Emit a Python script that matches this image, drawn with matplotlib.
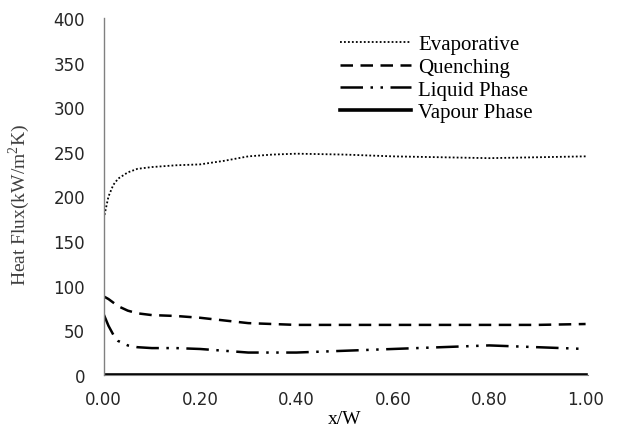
import matplotlib
matplotlib.use("Agg")
import matplotlib.pyplot as plt

plt.rcParams['font.family'] = ['Liberation Serif', 'DejaVu Serif']
plt.rcParams['mathtext.fontset'] = 'custom'
plt.rcParams['mathtext.rm'] = 'Liberation Serif'

# x/W positions
x = [0.0, 0.01, 0.02, 0.03, 0.05, 0.07, 0.10, 0.15, 0.20, 0.25, 0.30, 0.35, 0.40,
     0.50, 0.60, 0.70, 0.80, 0.90, 1.00]

evaporative = [175, 200, 213, 220, 227, 231, 233, 235, 236, 240, 245, 247, 248,
               247, 245, 244, 243, 244, 245]
quenching = [88, 85, 81, 77, 72, 69, 67, 66, 64, 61, 58, 57, 56,
             56, 56, 56, 56, 56, 57]
liquid = [68, 55, 45, 38, 33, 31, 30, 30, 29, 27, 25, 25, 25,
          27, 29, 31, 33, 31, 29]
vapour = [0] * len(x)

series = [
    ("Evaporative", evaporative, (0, (1, 1.2)), 1.3),
    ("Quenching", quenching, (0, (5, 3)), 1.8),
    ("Liquid Phase", liquid, (0, (9, 3, 1, 3, 1, 3)), 1.8),
    ("Vapour Phase", vapour, '-', 2.6),
]

fig = plt.figure(figsize=(6.17, 4.35), dpi=100)
ax = fig.add_axes([0.168, 0.136, 0.785, 0.82])

for label, y, ls, lw in series:
    ax.plot(x, y, color='black', linestyle=ls, linewidth=lw, label=label)

ax.set_xlim(0, 1.005)
ax.set_ylim(0, 400)
ax.set_xticks([0, 0.2, 0.4, 0.6, 0.8, 1.0])
ax.set_xticklabels(["0.00", "0.20", "0.40", "0.60", "0.80", "1.00"])
ax.set_yticks(range(0, 401, 50))
ax.tick_params(length=0, labelsize=12, labelcolor='#262626')
ax.tick_params(axis='y', pad=13.5)
ax.tick_params(axis='x', pad=11)
for t in ax.get_xticklabels() + ax.get_yticklabels():
    t.set_family('DejaVu Sans')

for s in ['top', 'right']:
    ax.spines[s].set_visible(False)
ax.spines['left'].set_color('#808080')
ax.spines['left'].set_linewidth(1.0)
ax.spines['bottom'].set_color('#808080')

ax.set_xlabel("x/W", fontsize=14)
ax.xaxis.set_label_coords(0.498, -0.098)
ax.set_ylabel("Heat Flux(kW/m$^2$K)", fontsize=14, color='#404040')
ax.yaxis.set_label_coords(-0.148, 0.48)

ax.legend(loc='upper left', bbox_to_anchor=(0.551, 0.918),
          bbox_transform=fig.transFigure, frameon=False, borderpad=0,
          borderaxespad=0, fontsize=15, handlelength=3.4, handletextpad=0.35,
          labelspacing=0.15)

fig.savefig("out.png", dpi=100)
